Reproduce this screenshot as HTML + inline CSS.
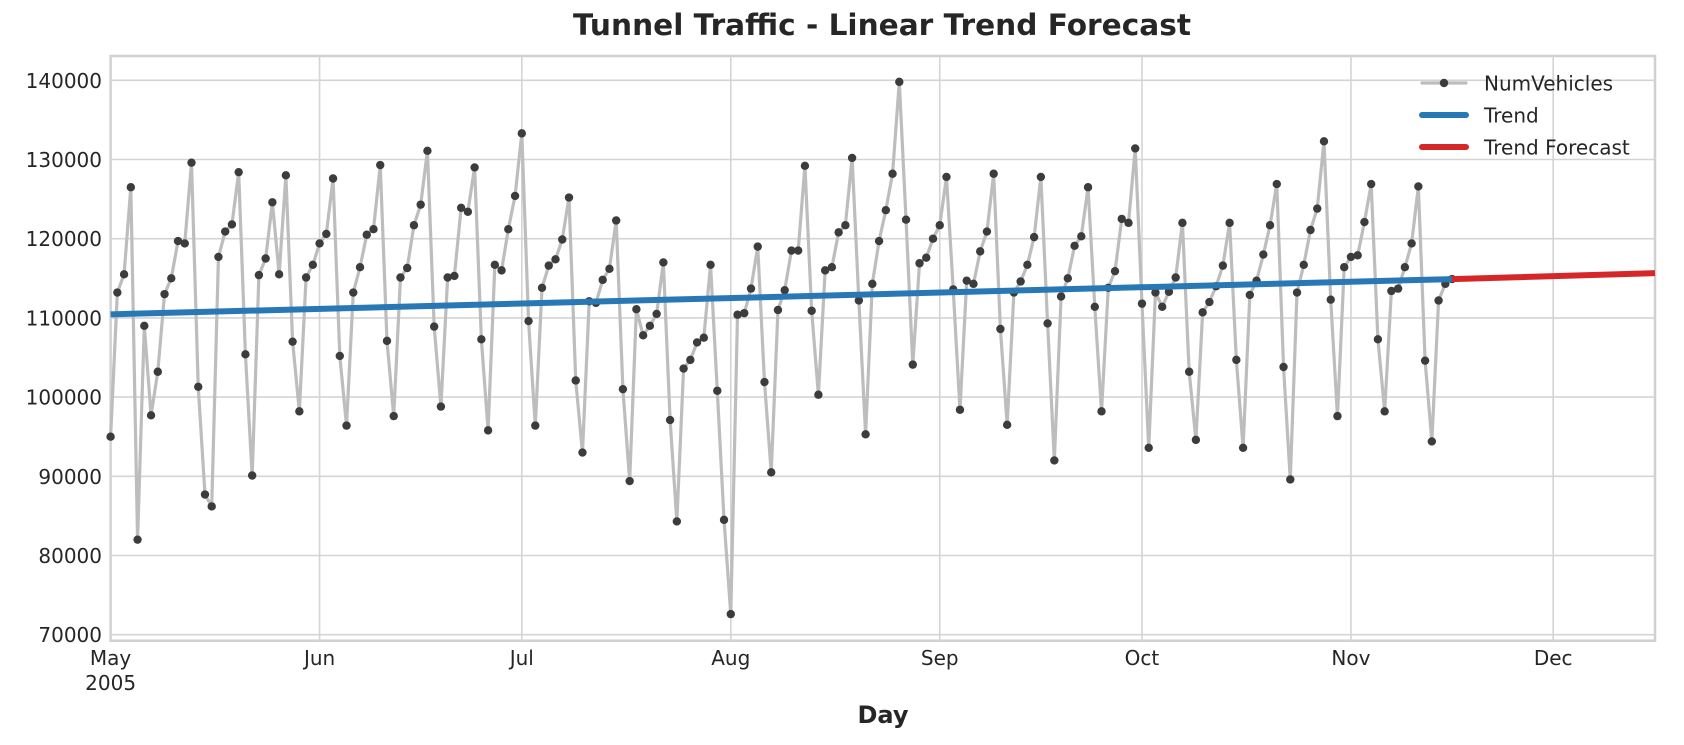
<!DOCTYPE html>
<html><head><meta charset="utf-8"><style>
body{margin:0;background:#fff;}
svg text{font-family:"DejaVu Sans","Liberation Sans",sans-serif;fill:#262626;}
</style></head><body>
<svg id="s" width="1684" height="740" xmlns="http://www.w3.org/2000/svg"></svg>
<script>
const vals=[95000,113200,115500,126500,82000,109000,97700,103200,113000,115000,119700,119400,129600,101300,87700,86200,117700,120900,121800,128400,105400,90100,115400,117500,124600,115500,128000,107000,98200,115100,116700,119400,120600,127600,105200,96400,113200,116400,120500,121200,129300,107100,97600,115100,116300,121700,124300,131100,108900,98800,115100,115300,123900,123400,129000,107300,95800,116700,116000,121200,125400,133300,
109600,96400,113800,116600,117400,119900,125200,102100,93000,112100,111900,114800,116200,122300,101000,89400,111100,107800,109000,110500,117000,97100,84300,103600,104700,106900,107500,116700,100800,84500,72600,
110400,110600,113700,119000,101900,90500,111000,113500,118500,118500,129200,110900,100300,116000,116400,120800,121700,130200,112200,95300,114300,119700,123600,128200,139800,122400,104100,116900,117600,120000,121700,127800,
113600,98400,114700,114300,118400,120900,128200,108600,96500,113200,114600,116700,120200,127800,109300,92000,112700,115000,119100,120300,126500,111400,98200,113800,115900,122500,122000,131400,111800,93600,
113200,111400,113300,115100,122000,103200,94600,110700,112000,114000,116600,122000,104700,93600,112900,114700,118000,121700,126900,103800,89600,113200,116700,121100,123800,132300,112300,97600,116400,117700,117900,122100,126900,107300,98200,113400,113700,116400,119400,126600,104600,94400,112200,114300,114900];
const X0=110.6,PD=6.741,L=110.6,R=1655,T=56,B=640.7;
const X=d=>X0+d*PD, Y=v=>80.3+(140000-v)/10000*79.2;
let h='';
h+=`<rect x="${L}" y="${T}" width="${R-L}" height="${B-T}" fill="#fff" stroke="#d0d0d0" stroke-width="2.5"/>`;
for(let v=70000;v<=140000;v+=10000){const y=Y(v);h+=`<line x1="${L}" x2="${R}" y1="${y}" y2="${y}" stroke="#d4d4d4" stroke-width="1.6"/><text x="102" y="${y+7.5}" font-size="20" text-anchor="end">${v}</text>`;}
const months=[[0,'May'],[31,'Jun'],[61,'Jul'],[92,'Aug'],[123,'Sep'],[153,'Oct'],[184,'Nov'],[214,'Dec']];
for(const [d,m] of months){const x=X(d);h+=`<line x1="${x}" x2="${x}" y1="${T}" y2="${B}" stroke="#d4d4d4" stroke-width="1.6"/><text x="${x}" y="665" font-size="20" text-anchor="middle">${m}</text>`;}
h+=`<text x="${X0}" y="690" font-size="20" text-anchor="middle">2005</text>`;
const n=vals.length;
h+=`<polyline fill="none" stroke="#bdbdbd" stroke-width="3.2" stroke-linejoin="round" points="${vals.map((v,i)=>X(i)+','+Y(v)).join(' ')}"/>`;
h+=vals.map((v,i)=>`<circle cx="${X(i)}" cy="${Y(v)}" r="4.2" fill="#3c3c3c"/>`).join('');
const t0=110450,t1=114900,tl=n-1;
h+=`<line x1="${X(0)}" y1="${Y(t0)}" x2="${X(tl)}" y2="${Y(t1)}" stroke="#2878b5" stroke-width="6"/>`;
h+=`<line x1="${X(tl)}" y1="${Y(t1)}" x2="${R}" y2="${Y(115650)}" stroke="#d62728" stroke-width="6"/>`;
h+=`<line x1="1422" x2="1466" y1="83" y2="83" stroke="#bdbdbd" stroke-width="3.2" stroke-linecap="round"/><circle cx="1444" cy="83" r="4.2" fill="#3c3c3c"/><text x="1484" y="90.5" font-size="20">NumVehicles</text>`;
h+=`<line x1="1422" x2="1466" y1="115" y2="115" stroke="#2878b5" stroke-width="6" stroke-linecap="round"/><text x="1484" y="122.5" font-size="20">Trend</text>`;
h+=`<line x1="1422" x2="1466" y1="147" y2="147" stroke="#d62728" stroke-width="6" stroke-linecap="round"/><text x="1484" y="154.5" font-size="20">Trend Forecast</text>`;
h+=`<text x="573" y="35" font-size="29" font-weight="bold" textLength="618" lengthAdjust="spacingAndGlyphs">Tunnel Traffic - Linear Trend Forecast</text>`;
h+=`<text x="883" y="723" font-size="24" font-weight="bold" text-anchor="middle">Day</text>`;
document.getElementById('s').innerHTML=h;
</script>
</body></html>
